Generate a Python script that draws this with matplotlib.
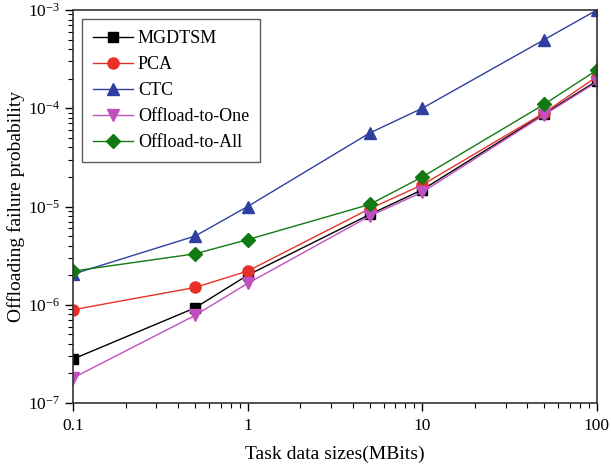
import matplotlib
matplotlib.use("Agg")
import matplotlib.pyplot as plt
from matplotlib.ticker import LogLocator, FixedLocator, FixedFormatter, NullFormatter

plt.rcParams["font.family"] = "Liberation Serif"
plt.rcParams["mathtext.fontset"] = "stix"

sizes = [0.1, 0.5, 1, 5, 10, 50, 100]
x_tick_labels = ["0.1", "1", "10", "100"]

mgdtsm = [2.8e-7, 9.3e-7, 2.0e-6, 8.3e-6, 1.48e-5, 8.8e-5, 1.9e-4]
pca = [8.9e-7, 1.5e-6, 2.2e-6, 9.5e-6, 1.66e-5, 9.0e-5, 2.1e-4]
ctc = [2.05e-6, 5.0e-6, 1.0e-5, 5.6e-5, 1.0e-4, 5.0e-4, 1.0e-3]
to_one = [1.8e-7, 7.8e-7, 1.65e-6, 8.0e-6, 1.4e-5, 8.6e-5, 1.85e-4]
to_all = [2.2e-6, 3.3e-6, 4.6e-6, 1.05e-5, 2.0e-5, 1.1e-4, 2.45e-4]

fig = plt.figure(figsize=(6.11, 4.69), dpi=100)
ax = fig.add_axes([0.1195, 0.1407, 0.8575, 0.838])

ax.plot(sizes, mgdtsm, color="black", marker="s", ms=7, lw=1, label="MGDTSM")
ax.plot(sizes, pca, color="#e8302a", marker="o", ms=8, lw=1, label="PCA")
ax.plot(sizes, ctc, color="#2e3fa0", marker="^", ms=8, lw=1, label="CTC")
ax.plot(sizes, to_one, color="#c04fc0", marker="v", ms=8, lw=1, label="Offload-to-One")
ax.plot(sizes, to_all, color="#127a12", marker="D", ms=7, lw=1, label="Offload-to-All")

ax.set_xscale("log")
ax.set_yscale("log")
ax.set_xlim(0.1, 100)
ax.set_ylim(1e-7, 1e-3)

ax.xaxis.set_major_locator(FixedLocator([0.1, 1, 10, 100]))
ax.xaxis.set_major_formatter(FixedFormatter(x_tick_labels))
ax.xaxis.set_minor_locator(LogLocator(base=10, subs=range(2, 10)))
ax.xaxis.set_minor_formatter(NullFormatter())
ax.yaxis.set_minor_locator(LogLocator(base=10, subs=range(2, 10)))
ax.yaxis.set_minor_formatter(NullFormatter())

ax.tick_params(which="major", length=6, width=1, labelsize=12.5, direction="out")
ax.tick_params(axis="x", which="major", pad=5)
ax.tick_params(which="minor", length=3.5, width=0.8, direction="out")
for s in ax.spines.values():
    s.set_color("#333333")
    s.set_linewidth(1.2)

ax.set_xlabel("Task data sizes(MBits)", fontsize=14, labelpad=8)
ax.set_ylabel("Offloading failure probability", fontsize=14, labelpad=2)

leg = ax.legend(loc="upper left", fontsize=13, frameon=True, fancybox=False,
                edgecolor="#333333", handlelength=2.2, borderpad=0.6,
                labelspacing=0.5, handletextpad=0.3)
leg.get_frame().set_linewidth(1)

fig.savefig("out.png", dpi=100)
